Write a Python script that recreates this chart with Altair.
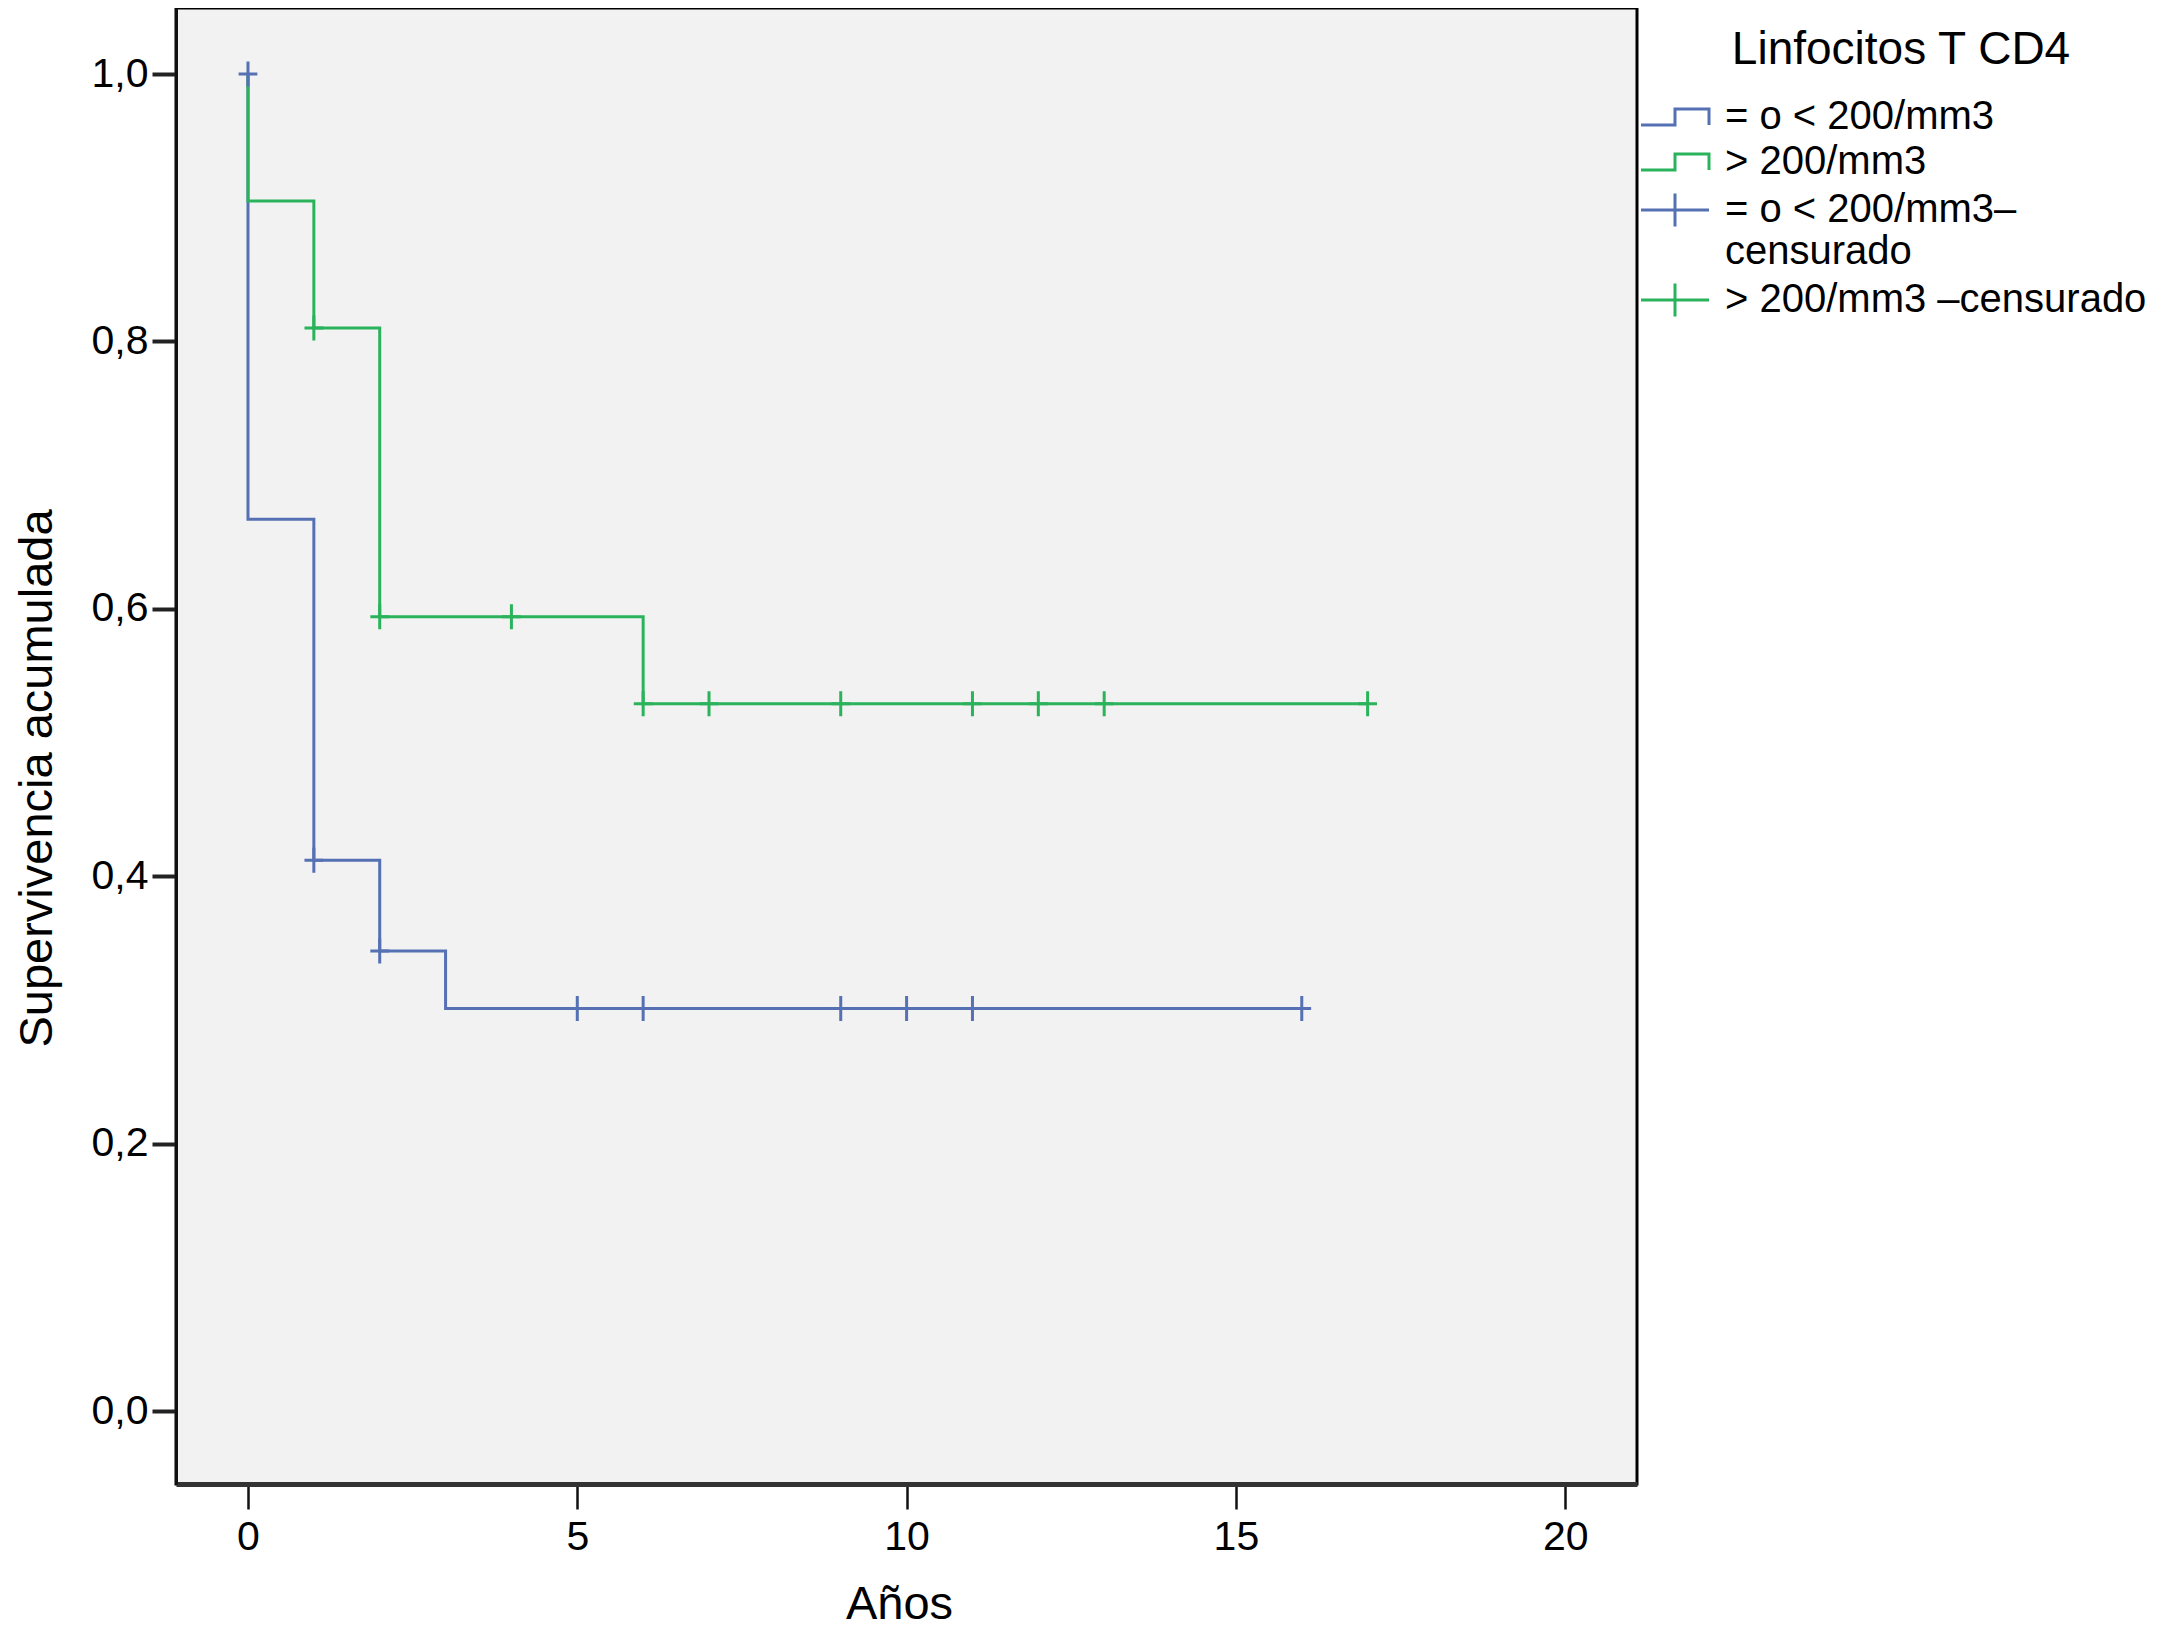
import altair as alt
import pandas as pd

# ---- data ----
series = ["= o < 200/mm3", "> 200/mm3"]
censored = ["= o < 200/mm3–censurado", "> 200/mm3 –censurado"]
legend_order = [series[0], series[1], censored[0], censored[1]]
colors = ["#5570b3", "#2bb35c", "#5570b3", "#2bb35c"]

blue_t = [0, 0, 1, 2, 3, 16]
blue_s = [1.0, 0.667, 0.412, 0.344, 0.301, 0.301]
green_t = [0, 0, 1, 2, 6, 17]
green_s = [1.0, 0.905, 0.810, 0.594, 0.529, 0.529]

blue_cens_t = [0, 1, 2, 5, 6, 9, 10, 11, 16]
blue_cens_s = [1.0, 0.412, 0.344, 0.301, 0.301, 0.301, 0.301, 0.301, 0.301]
green_cens_t = [1, 2, 4, 6, 7, 9, 11, 12, 13, 17]
green_cens_s = [0.810, 0.594, 0.594, 0.529, 0.529, 0.529, 0.529, 0.529, 0.529, 0.529]

x_ticks = [0, 5, 10, 15, 20]
y_ticks = [0.0, 0.2, 0.4, 0.6, 0.8, 1.0]

# ---- tables ----
steps = pd.DataFrame(
    [{"t": t, "s": s, "serie": series[0], "ord": i, "grp": 0} for i, (t, s) in enumerate(zip(blue_t, blue_s))]
    + [{"t": t, "s": s, "serie": series[1], "ord": i, "grp": 1} for i, (t, s) in enumerate(zip(green_t, green_s))]
)
cens = pd.DataFrame(
    [{"t": t, "s": s, "serie": censored[0]} for t, s in zip(blue_cens_t, blue_cens_s)]
    + [{"t": t, "s": s, "serie": censored[1]} for t, s in zip(green_cens_t, green_cens_s)]
)
legend_df = pd.DataFrame({"serie": legend_order, "t": [-50] * 4, "s": [-50] * 4})

FONT = "Liberation Sans, Arial, Helvetica, sans-serif"
X_DOMAIN = [-1.093, 21.09]
Y_DOMAIN = [-0.0546, 1.0494]

step_path = "M-2,0.47H0V-0.47H2V0.47"
plus_path = "M-2,0H2M0,-0.97V0.97"
cens_path = "M-0.75,0H0.75M0,-1V1"

x_enc = alt.X(
    "t:Q",
    scale=alt.Scale(domain=X_DOMAIN, nice=False, zero=False),
    axis=alt.Axis(
        values=x_ticks, format="d", title="Años", grid=False,
        domain=True, domainWidth=5, domainColor="#333333",
        tickSize=25, tickWidth=2.5, tickColor="#111", labelPadding=8,
        labelFontSize=41, labelColor="#000", labelFont=FONT,
        titleFontSize=47, titleFontWeight="normal", titleFont=FONT, titleColor="#000",
        titleX=723, titleY=134, titleBaseline="alphabetic", titleAlign="center",
    ),
)
y_enc = alt.Y(
    "s:Q",
    scale=alt.Scale(domain=Y_DOMAIN, nice=False, zero=False),
    axis=alt.Axis(
        values=y_ticks, title="Supervivencia acumulada", grid=False,
        domain=True, domainWidth=3, domainColor="#111111",
        tickSize=24, tickWidth=4, tickColor="#222", labelPadding=4,
        labelFontSize=41, labelColor="#000", labelFont=FONT,
        labelExpr="replace(format(datum.value, '.1f'), '.', ',')",
        titleFontSize=47, titleFontWeight="normal", titleFont=FONT, titleColor="#000",
        titleX=-125, titleY=770, titleBaseline="alphabetic", titleAlign="center", titleAngle=-90,
    ),
)

legend_props = dict(
    title="Linfocitos T CD4", orient="none", legendX=1479, legendY=20,
    titleFontSize=46, titleFontWeight="normal", titleFont=FONT, titleColor="#000",
    titleAnchor="middle", titlePadding=23, titleLimit=0,
    labelFontSize=40, labelFont=FONT, labelColor="#000", labelLimit=0, labelOffset=30,
    labelExpr="datum.label == '" + censored[0] + "' ? ['= o < 200/mm3–', 'censurado'] : datum.label",
    symbolSize=1156, symbolStrokeWidth=3, symbolFillColor="transparent",
    rowPadding=5, padding=0,
)

color_scale = alt.Scale(domain=legend_order, range=colors)

lines = alt.Chart(steps).mark_line(interpolate="step-after", strokeWidth=3, clip=True).encode(
    x=x_enc, y=y_enc,
    color=alt.Color("serie:N", scale=color_scale, legend=alt.Legend(**legend_props)),
    detail="grp:N",
    order="ord:Q",
)

marks = alt.Chart(cens).mark_point(shape=cens_path, size=625, filled=False, strokeWidth=3, opacity=1, clip=True).encode(
    x="t:Q", y="s:Q",
    color=alt.Color("serie:N", scale=color_scale, legend=alt.Legend(**legend_props)),
)

legend_layer = alt.Chart(legend_df).mark_point(filled=False, strokeWidth=3, opacity=1, clip=True).encode(
    x="t:Q", y="s:Q",
    color=alt.Color("serie:N", scale=color_scale, legend=alt.Legend(**legend_props)),
    shape=alt.Shape("serie:N", scale=alt.Scale(domain=legend_order, range=[step_path, step_path, plus_path, plus_path]),
                    legend=alt.Legend(**legend_props)),
)

chart = alt.layer(lines, marks, legend_layer).properties(
    width=1461, height=1476,
    autosize=alt.AutoSizeParams(type="none"),
    padding={"left": 168, "top": 0, "right": 514, "bottom": 148},
    background="#ffffff",
    view=alt.ViewBackground(fill="#f2f2f2", stroke="#000000", strokeWidth=3),
).configure(
    font=FONT,
).configure_view(
    fill="#f2f2f2", stroke="#000000", strokeWidth=3,
)

chart.save("out.html", embed_options={"renderer": "svg", "actions": False})
